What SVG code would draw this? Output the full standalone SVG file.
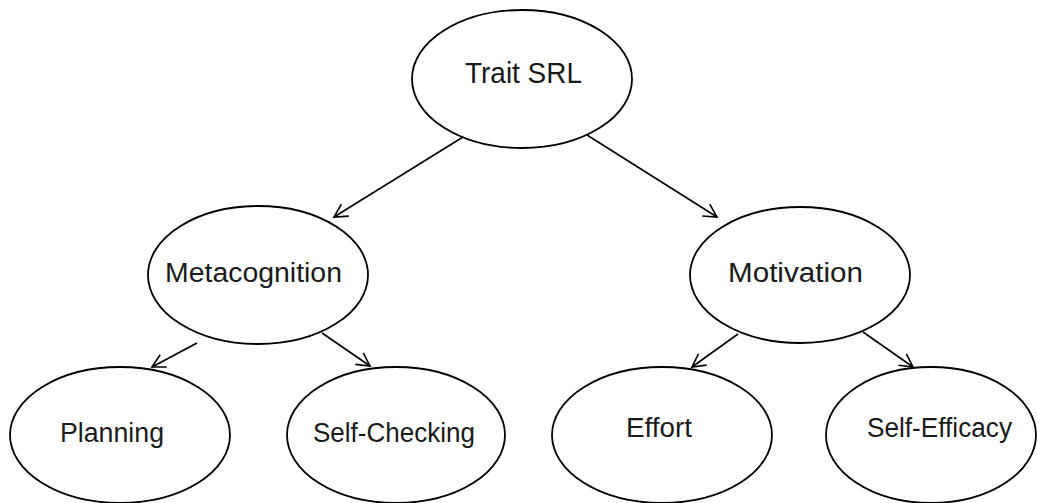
<svg xmlns="http://www.w3.org/2000/svg" width="1037" height="503" viewBox="0 0 1037 503">
<style>
.node ellipse{fill:#fff;stroke:#000;stroke-width:1.8}
.node text{font-family:"Liberation Sans",Arial,sans-serif;font-size:27px;fill:#1a1a1a;text-anchor:middle}
.edge{stroke:#000;stroke-width:1.6;fill:none;marker-end:url(#arr)}
</style>
<defs>
<marker id="arr" markerUnits="userSpaceOnUse" markerWidth="20" markerHeight="20" refX="14" refY="8" orient="auto" viewBox="0 0 20 16">
<path d="M1,1 L14,8 L1,15" fill="none" stroke="#000" stroke-width="1.6"/>
</marker>
</defs>
<rect width="1037" height="503" fill="#fff"/>
<g id="connectors">
<line class="edge" x1="463" y1="137" x2="334" y2="217"/>
<line class="edge" x1="587" y1="135" x2="717" y2="217"/>
<line class="edge" x1="197" y1="343" x2="152" y2="367"/>
<line class="edge" x1="322" y1="333" x2="370" y2="366"/>
<line class="edge" x1="738" y1="334" x2="692" y2="367"/>
<line class="edge" x1="863" y1="332" x2="913" y2="367"/>
</g>
<g id="trait-srl" class="node">
<ellipse cx="522" cy="79" rx="110" ry="69"/>
<text x="523.5" y="83" style="font-size:30px" textLength="117" lengthAdjust="spacingAndGlyphs">Trait SRL</text>
</g>
<g id="metacognition" class="node">
<ellipse cx="258" cy="275" rx="110" ry="69"/>
<text x="253.5" y="282" textLength="177" lengthAdjust="spacingAndGlyphs">Metacognition</text>
</g>
<g id="motivation" class="node">
<ellipse cx="800" cy="275" rx="110" ry="68"/>
<text x="795.5" y="282" textLength="135" lengthAdjust="spacingAndGlyphs">Motivation</text>
</g>
<g id="planning" class="node">
<ellipse cx="120" cy="435" rx="110" ry="68"/>
<text x="112" y="442" textLength="104" lengthAdjust="spacingAndGlyphs">Planning</text>
</g>
<g id="self-checking" class="node">
<ellipse cx="396" cy="435" rx="109" ry="68"/>
<text x="394" y="442" textLength="162" lengthAdjust="spacingAndGlyphs">Self-Checking</text>
</g>
<g id="effort" class="node">
<ellipse cx="662" cy="435" rx="110" ry="68"/>
<text x="659" y="437" textLength="66" lengthAdjust="spacingAndGlyphs">Effort</text>
</g>
<g id="self-efficacy" class="node">
<ellipse cx="931" cy="435" rx="105" ry="68"/>
<text x="939.5" y="437" textLength="145" lengthAdjust="spacingAndGlyphs">Self-Efficacy</text>
</g>
</svg>
